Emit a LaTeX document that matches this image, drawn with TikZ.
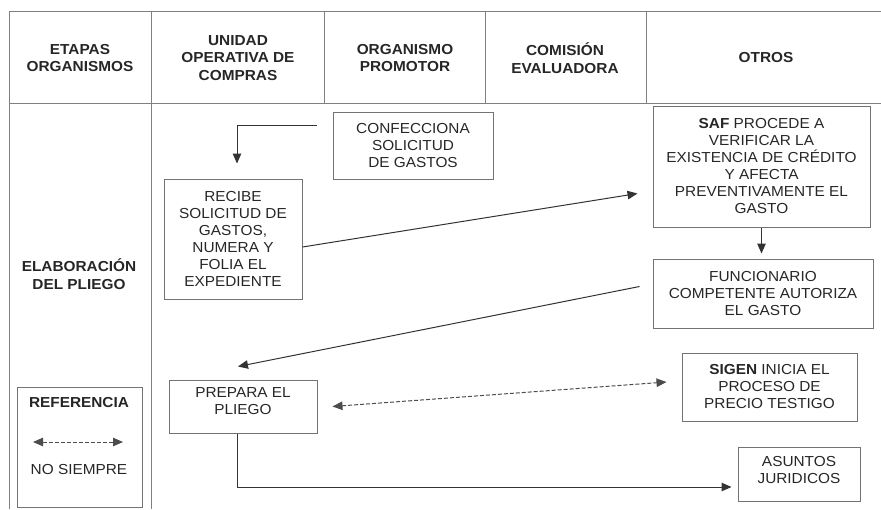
\documentclass[tikz,border=0pt]{standalone}
\usepackage{fontspec}
\setmainfont{Liberation Sans}[FakeStretch=1.06]
\usetikzlibrary{arrows.meta, positioning}

\begin{document}
\begin{tikzpicture}[
        x=1pt, y=-1pt,
        every node/.style={font=\fontsize{14.5}{17}\selectfont, text=black!85},
        grid/.style={draw=black!50, line width=1pt},
        header/.style={align=center, font=\fontsize{14.5}{17.5}\selectfont\bfseries},
        etapa/.style={draw=black!55, line width=1pt, align=center, inner sep=0pt},
        arrow/.style={-{Triangle[length=10pt,width=8.5pt]}, draw=black!80, line width=1pt},
        dasharrow/.style={{Triangle[length=10pt,width=8.5pt]}-{Triangle[length=10pt,width=8.5pt]}, draw=black!70, line width=1pt, dash pattern=on 4pt off 2pt}
    ]
    \useasboundingbox (0,0) rectangle (881,509);

        % Table
        \draw[grid] (9,11) -- (881,11) (9,103) -- (881,103);
        \draw[grid] (9,11) -- (9,509) (151,11) -- (151,509);
        \foreach \x in {324,485,646} \draw[grid] (\x,11) -- (\x,103);

        % Header
        \node[header] (etapas) at (80,58) {ETAPAS\\ORGANISMOS};
        \node[header] (unidad) at (238,58) {UNIDAD\\OPERATIVA DE\\COMPRAS};
        \node[header] (promotor) at (405,58) {ORGANISMO\\PROMOTOR};
        \node[header] (comision) at (565,58) {COMISIÓN\\EVALUADORA};
        \node[header] (otros) at (766,58) {OTROS};
        \node[header] (pliego) at (79,274) {ELABORACIÓN\\DEL PLIEGO};

        % Nodes
        \node[etapa, minimum width=160pt, minimum height=67pt] (confecciona) at (413,145.5) {CONFECCIONA\\SOLICITUD\\DE GASTOS};
        \node[etapa, minimum width=138pt, minimum height=120pt] (recibe) at (233,239) {RECIBE\\SOLICITUD DE\\GASTOS,\\NUMERA Y\\FOLIA EL\\EXPEDIENTE};
        \node[etapa, minimum width=217pt, minimum height=121pt] (saf) at (761.5,166.5) {\textbf{SAF} PROCEDE A\\VERIFICAR LA\\EXISTENCIA DE CRÉDITO\\Y AFECTA\\PREVENTIVAMENTE EL\\GASTO};
        \node[etapa, minimum width=220pt, minimum height=69pt] (funcionario) at (763,293.5) {FUNCIONARIO\\COMPETENTE AUTORIZA\\EL GASTO};
        \node[etapa, minimum width=148pt, minimum height=53pt] (prepara) at (243,406.5) {PREPARA EL\\PLIEGO\vphantom{g}\\[-6pt]};
        \node[etapa, minimum width=175pt, minimum height=68pt] (sigen) at (769.5,387) {\textbf{SIGEN} INICIA EL\\PROCESO DE\\PRECIO TESTIGO};
        \node[etapa, minimum width=122pt, minimum height=54pt] (asuntos) at (799,474) {ASUNTOS\\JURIDICOS\\[-8pt]};

        % Referencia
        \node[etapa, minimum width=125pt, minimum height=120pt] (referencia) at (79.5,447) {};
        \node[font=\fontsize{14.5}{17}\selectfont\bfseries] (refTitulo) at (79,403) {REFERENCIA};
        \node (refNota) at (79,470) {NO SIEMPRE};
        \coordinate (refIzq) at (33,442);
        \coordinate (refDer) at (123,442);

        % Arrows
        \draw[arrow] ([xshift=-16pt,yshift=20pt]confecciona.west) -| ([xshift=4pt,yshift=15pt]recibe.north);
        \draw[arrow] ([yshift=-8pt]recibe.east) -- ([xshift=-15pt,yshift=-27pt]saf.west);
        \draw[arrow] (saf.south) -- ([yshift=5pt]saf.south |- funcionario.north);
        \draw[arrow] ([xshift=-13pt,yshift=7pt]funcionario.west) -- ([xshift=-5pt,yshift=13pt]prepara.north);
        \draw[dasharrow] ([xshift=15pt]prepara.east) -- ([xshift=-15pt,yshift=5pt]sigen.west);
        \draw[arrow] ([xshift=-6pt]prepara.south) |- ([xshift=-6pt,yshift=-13pt]asuntos.west);
        \draw[dasharrow] (refIzq) -- (refDer);
\end{tikzpicture}
\end{document}
